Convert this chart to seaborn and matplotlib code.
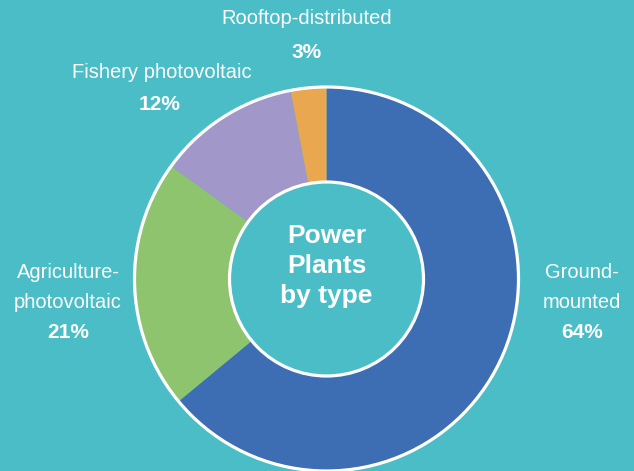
import matplotlib
matplotlib.use("Agg")
import matplotlib.pyplot as plt
import seaborn as sns
from matplotlib.patches import Circle

# data
categories = ["Ground-mounted", "Agriculture-photovoltaic", "Fishery photovoltaic", "Rooftop-distributed"]
shares = [64, 21, 12, 3]
label_lines = [["Ground-", "mounted"], ["Agriculture-", "photovoltaic"], ["Fishery photovoltaic"], ["Rooftop-distributed"]]

colors = ["#3D6EB4", "#8FC46F", "#A198C9", "#E9A84F"]
bg = "#4BBDC7"

sns.set_theme(style="white")
plt.rcParams['font.family'] = ['Liberation Sans', 'DejaVu Sans']

fig = plt.figure(figsize=(6.34, 4.71), dpi=100, facecolor=bg)
ax = fig.add_axes([0, 0, 1, 1])
ax.set_facecolor(bg)

H = 471
cx, cy = 326.5, H - 279
r_out, r_in = 191, 97

ax.pie(shares, colors=colors, startangle=90, counterclock=False,
       center=(cx, cy), radius=r_out,
       wedgeprops=dict(width=r_out - r_in + 5, linewidth=0))

# white rings
ax.add_patch(Circle((cx, cy), r_out + 1, fill=False, edgecolor="white", linewidth=2.3, zorder=5))
ax.add_patch(Circle((cx, cy), r_in, facecolor=bg, edgecolor="white", linewidth=2.3, zorder=5))

for line, y in zip(["Power", "Plants", "by type"], [236, 266, 296]):
    ax.text(cx, H - y, line, color="white", fontsize=19, fontweight="bold",
            ha="center", va="center", zorder=6)

# labels: name lines then bold percentage (pixel rows from top)
label_x = [582, 68, 162, 307]
name_rows = [[273, 302], [273, 302], [72], [18]]
pct_rows = [332, 332, 104, 53]
pct_x = [582, 68, 160, 307]
for lines, rows, pct, x, px, py in zip(label_lines, name_rows, shares, label_x, pct_x, pct_rows):
    for line, y in zip(lines, rows):
        ax.text(x, H - y, line, color="white", fontsize=14.5, ha="center", va="center")
    ax.text(px, H - py, f"{pct}%", color="white", fontsize=15, ha="center", va="center",
            fontweight="bold")

ax.set_xlim(0, 634)
ax.set_ylim(0, H)
ax.set_aspect("equal")
ax.axis("off")

fig.savefig("out.png", dpi=100, facecolor=bg)
